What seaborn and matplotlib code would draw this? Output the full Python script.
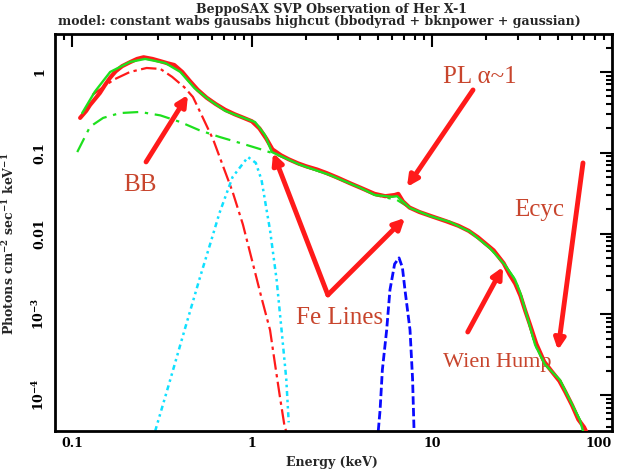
import numpy as np
import pandas as pd
import matplotlib
matplotlib.use("Agg")
import matplotlib.pyplot as plt
import matplotlib.ticker as mticker
import seaborn as sns

# ==============================================================================
# Datos (energia en keV, flujo en fotones cm^-2 s^-1 keV^-1)
# ==============================================================================

# Datos observados (rojo)
e_datos = [0.111, 0.120, 0.126, 0.135, 0.143, 0.152, 0.163, 0.175, 0.19, 0.21,
           0.23, 0.25, 0.28, 0.31, 0.34, 0.37, 0.41, 0.45, 0.50, 0.56, 0.63,
           0.71, 0.80, 0.90, 1.0, 1.1, 1.2, 1.3, 1.45, 1.6, 1.8, 2.0, 2.3, 2.6,
           3.0, 3.5, 4.0, 4.8, 5.5, 6.2, 6.5, 6.9, 7.5, 8.5, 10, 12, 14, 16, 18,
           20, 22, 25, 27, 29, 31, 33, 35, 38, 42, 46, 51, 55, 60, 65, 70, 72]
f_datos = [0.27, 0.33, 0.39, 0.47, 0.55, 0.68, 0.85, 1.02, 1.18, 1.32,
           1.45, 1.52, 1.45, 1.36, 1.28, 1.22, 1.0, 0.78, 0.60, 0.48, 0.40,
           0.34, 0.30, 0.27, 0.245, 0.20, 0.15, 0.11, 0.093, 0.083, 0.074, 0.068, 0.062, 0.056,
           0.049, 0.042, 0.037, 0.031, 0.029, 0.030, 0.031, 0.025, 0.021, 0.0185, 0.0163, 0.0142, 0.0125, 0.0108, 0.0090,
           0.0074, 0.0062, 0.0043, 0.0031, 0.0024, 0.0017, 0.0011, 7.5e-4, 4.3e-4, 2.6e-4, 2.0e-4, 1.5e-4, 1.1e-4, 7.5e-5, 5.0e-5, 4.0e-5, 3.5e-5]

# Modelo total (verde continuo)
e_total = [0.114, 0.134, 0.163, 0.21, 0.255, 0.33, 0.40, 0.48, 0.58, 0.71, 0.86,
           1.04, 1.18, 1.29, 1.53, 1.85, 2.71, 3.98, 4.82, 6.0, 6.4, 7.0, 7.55,
           9.75, 12.6, 16.3, 21.0, 25.4, 28.9, 30.8, 34.2, 37.4, 42.4, 51.4,
           58.4, 66.4, 69.0]
f_total = [0.31, 0.57, 1.0, 1.33, 1.45, 1.29, 1.0, 0.63, 0.45, 0.33, 0.28,
           0.24, 0.166, 0.102, 0.086, 0.071, 0.053, 0.037, 0.030, 0.0285, 0.029, 0.024, 0.0207,
           0.0165, 0.0139, 0.0105, 0.0066, 0.0041, 0.0027, 0.0019, 8.5e-4, 4.2e-4, 2.4e-4, 1.54e-4,
           8.7e-5, 4.9e-5, 3.6e-5]

# Cuerpo negro (rojo punto-raya)
e_bb = [0.13, 0.17, 0.21, 0.26, 0.31, 0.36, 0.42, 0.47, 0.53, 0.61, 0.68,
        0.78, 0.89, 1.01, 1.13, 1.26, 1.34, 1.43, 1.52, 1.55]
f_bb = [0.52, 0.80, 1.0, 1.12, 1.09, 0.87, 0.65, 0.49, 0.28, 0.144, 0.075,
        0.033, 0.013, 0.0043, 0.0016, 6.4e-4, 2.5e-4, 9.5e-5, 4.0e-5, 3.6e-5]

# Ley de potencias (verde punto-raya)
e_pl = [0.107, 0.126, 0.149, 0.185, 0.239, 0.31, 0.40, 0.51, 0.66, 0.86, 1.11,
        1.30, 1.53, 1.85, 2.71, 3.98, 4.82, 6.4, 7.55, 9.75, 12.6, 16.3, 21.0,
        25.4, 28.9, 30.8, 34.2, 37.4, 42.4, 51.4, 58.4, 66.4, 69.0]
f_pl = [0.102, 0.21, 0.27, 0.31, 0.32, 0.29, 0.24, 0.19, 0.157, 0.132, 0.111,
        0.099, 0.086, 0.071, 0.053, 0.037, 0.030, 0.026, 0.0207, 0.0165, 0.0139, 0.0105, 0.0066,
        0.0041, 0.0027, 0.0019, 8.5e-4, 4.2e-4, 2.4e-4, 1.54e-4, 8.7e-5, 4.9e-5, 3.6e-5]

# Gaussiana ~1 keV (cian)
e_gau1 = [0.29, 0.35, 0.424, 0.515, 0.58, 0.66, 0.78, 0.95, 1.05, 1.13, 1.26,
          1.37, 1.46, 1.55, 1.6]
f_gau1 = [3.6e-5, 1.5e-4, 6.6e-4, 2.9e-3, 0.0069, 0.018, 0.050, 0.0885, 0.075,
          0.046, 0.011, 0.0027, 6.4e-4, 1.6e-4, 4.6e-5]

# Linea de Fe 6.5 keV (azul)
e_fe = [5.03, 5.15, 5.3, 5.6, 5.84, 6.2, 6.56, 6.85, 7.08, 7.55, 7.8, 7.95]
f_fe = [3.6e-5, 6.6e-5, 2.05e-4, 6.4e-4, 2.0e-3, 0.0042, 0.005, 0.0038, 0.002,
        6.4e-4, 1.6e-4, 3.6e-5]

xtick_vals = [0.1, 1, 10, 100]
xtick_labels = ["0.1", "1", "10", "100"]
ytick_vals = [1, 0.1, 0.01, 1e-3, 1e-4]
ytick_labels = ["1", "0.1", "0.01", "10$^{-3}$", "10$^{-4}$"]

# ==============================================================================
# Figura
# ==============================================================================
sns.set_style("white")
plt.rcParams["font.family"] = ["DejaVu Serif"]
plt.rcParams["mathtext.fontset"] = "dejavuserif"
plt.rcParams["mathtext.default"] = "bf"

fig = plt.figure(figsize=(6.21, 4.72), dpi=100)
ax = fig.add_axes([55 / 621, 41 / 472, 557 / 621, 397 / 472])

rojo = "#ff1a1a"
verde = "#1ee01e"

def linea(e, f, color, lw, ls="-", z=2):
    df = pd.DataFrame({"E": e, "F": f})
    sns.lineplot(data=df, x="E", y="F", ax=ax, color=color, lw=lw, linestyle=ls,
                 sort=False, estimator=None, zorder=z)

linea(e_bb, f_bb, rojo, 1.6, (0, (7, 2, 1.5, 2)))
linea(e_gau1, f_gau1, "#10e0ff", 1.8, (0, (2, 1.5, 1, 1.5, 1, 1.5)))
linea(e_fe, f_fe, "#0a0aff", 2.0, (0, (3, 1.2)))
linea(e_pl, f_pl, verde, 1.6, (0, (7, 3, 1.5, 3)))
linea(e_datos, f_datos, rojo, 3.0, z=3)
linea(e_total, f_total, verde, 1.7, z=4)

ax.set_xscale("log")
ax.set_yscale("log")
ax.set_xlim(0.0805, 100)
ax.set_ylim(3.6e-5, 2.95)

ax.xaxis.set_major_locator(mticker.FixedLocator(xtick_vals))
ax.xaxis.set_major_formatter(mticker.FixedFormatter(xtick_labels))
ax.yaxis.set_major_locator(mticker.FixedLocator(ytick_vals))
ax.yaxis.set_major_formatter(mticker.FixedFormatter(ytick_labels))
ax.xaxis.set_minor_locator(mticker.LogLocator(base=10, subs=np.arange(2, 10)))
ax.yaxis.set_minor_locator(mticker.LogLocator(base=10, subs=np.arange(2, 10)))
ax.xaxis.set_minor_formatter(mticker.NullFormatter())
ax.yaxis.set_minor_formatter(mticker.NullFormatter())

ax.tick_params(which="both", direction="in", top=True, right=True, width=1.5, colors="black")
ax.tick_params(which="major", length=9)
ax.tick_params(which="minor", length=4.5)
ax.tick_params(axis="x", pad=4, labelsize=9)
ax.tick_params(axis="y", pad=6, labelsize=9, labelrotation=90)
for lbl in ax.get_xticklabels() + ax.get_yticklabels():
    lbl.set_fontweight("bold")
for lbl in ax.get_yticklabels():
    lbl.set_verticalalignment("center")
ax.get_xticklabels()[-1].set_horizontalalignment("right")
for s in ax.spines.values():
    s.set_linewidth(2)
    s.set_color("black")

ax.set_xlabel("Energy (keV)", fontsize=9, fontweight="bold")
ax.set_ylabel("Photons cm$^{-2}$ sec$^{-1}$ keV$^{-1}$", fontsize=9, fontweight="bold")
ax.xaxis.set_label_coords(0.497, -0.062)
ax.yaxis.set_label_coords(-0.068, 0.471)

fig.text(332 / 621, 1 - 9 / 472, "BeppoSAX SVP Observation of Her X-1",
         ha="center", va="center", fontsize=9, fontweight="bold")
fig.text(319 / 621, 1 - 21 / 472,
         "model: constant wabs gausabs highcut (bbodyrad + bknpower + gaussian)",
         ha="center", va="center", fontsize=9, fontweight="bold")

# ==============================================================================
# Anotaciones
# ==============================================================================
color_txt = "#c8452d"
fuente = ["Liberation Serif", "DejaVu Serif"]
flecha = dict(arrowstyle="-|>", color=rojo, lw=3.5, mutation_scale=16, shrinkA=0, shrinkB=0)

ax.text(0.239, 0.040, "BB", color=color_txt, fontsize=18, family=fuente, ha="center", va="center")
ax.annotate("", xy=(0.441, 0.52), xytext=(0.258, 0.077), arrowprops=flecha)

ax.text(18.5, 0.866, "PL \u03b1~1", color=color_txt, fontsize=18, family=fuente, ha="center", va="center")
ax.annotate("", xy=(7.26, 0.0377), xytext=(16.9, 0.599), arrowprops=flecha)

ax.text(39.3, 0.0196, "Ecyc", color=color_txt, fontsize=18, family=fuente, ha="center", va="center")
ax.annotate("", xy=(50.1, 3.6e-4), xytext=(69, 0.0748), arrowprops=flecha)

ax.text(3.08, 9.0e-4, "Fe Lines", color=color_txt, fontsize=18, family=fuente, ha="center", va="center")
ax.annotate("", xy=(1.31, 0.0994), xytext=(2.64, 1.74e-3), arrowprops=flecha)
ax.annotate("", xy=(7.08, 0.0156), xytext=(2.64, 1.74e-3), arrowprops=flecha)

ax.text(23.0, 2.5e-4, "Wien Hump", color=color_txt, fontsize=16, family=fuente, ha="center", va="center")
ax.annotate("", xy=(24.8, 3.86e-3), xytext=(15.8, 6.05e-4), arrowprops=flecha)

plt.savefig("out.png", dpi=100)
